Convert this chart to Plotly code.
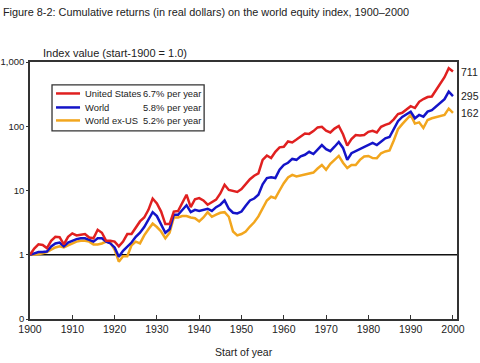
import math
import plotly.graph_objects as go

years = list(range(1900, 2001))

us = [1.0, 1.25, 1.45, 1.42, 1.27, 1.65, 1.9, 1.88, 1.45, 1.9,
      2.15, 2.0, 2.05, 2.1, 1.85, 1.8, 2.45, 2.2, 1.65, 1.65,
      1.6, 1.35, 1.6, 2.1, 2.1, 2.6, 3.3, 3.8, 5.0, 7.5,
      6.3, 4.7, 3.0, 3.0, 4.7, 4.8, 6.5, 8.6, 5.5, 7.3,
      7.6, 7.0, 6.0, 6.5, 7.2, 9.0, 12.3, 10.2, 9.8, 9.5,
      10.5, 12.5, 15, 17, 18.5, 30, 35, 32, 40, 47,
      48, 58, 56, 62, 69, 77, 76, 84, 96, 98,
      85, 80, 92, 101, 75, 50, 63, 73, 72, 73,
      82, 85, 80, 98, 105, 111, 128, 155, 162, 180,
      205, 192, 240, 265, 285, 290, 370, 450, 580, 800,
      711]

world = [1.0, 1.05, 1.1, 1.1, 1.12, 1.35, 1.5, 1.55, 1.35, 1.55,
         1.65, 1.75, 1.8, 1.8, 1.7, 1.6, 1.8, 1.8, 1.6, 1.5,
         1.3, 0.93, 1.15, 1.35, 1.55, 1.9, 2.2, 2.7, 3.5, 4.6,
         4.0, 3.0, 2.2, 2.5, 4.2, 4.2, 5.0, 5.9, 4.6, 5.0,
         4.8, 5.0, 5.2, 4.8, 5.5, 6.0, 7.0, 5.2, 4.5, 4.4,
         4.7, 5.8, 7.0, 7.5, 8.6, 12.5, 15.6, 16, 15.6, 21,
         25, 27, 31, 30, 34, 36, 40, 37, 44, 51,
         44, 41, 48, 57, 46, 30, 38, 41, 44, 48,
         52, 55, 51, 58, 65, 68, 88, 120, 140, 156,
         169, 133, 150, 141, 169, 178, 205, 228, 264, 346,
         295]

world_ex_us = [1.0, 1.0, 1.02, 1.05, 1.1, 1.2, 1.3, 1.35, 1.3, 1.4,
               1.5, 1.6, 1.65, 1.65, 1.6, 1.45, 1.45, 1.5, 1.6, 1.55,
               1.2, 0.78, 0.95, 0.95, 1.4, 1.6, 1.5, 2.0, 2.5, 3.05,
               2.7, 2.3, 1.8, 2.2, 3.8, 3.8, 4.0, 4.0, 3.8, 3.7,
               3.3, 3.8, 4.6, 3.9, 4.2, 4.5, 4.6, 3.9, 2.3, 2.0,
               2.1, 2.3, 2.75, 3.2, 3.95, 5.3, 7.0, 8.0, 7.6, 10,
               13, 16, 17.5, 16.5, 17, 17.5, 18, 19, 22, 25,
               21, 26, 30, 34.5, 27, 22.3, 25, 25, 30, 33.8,
               34.5, 32, 31.9, 38, 40.5, 42, 60, 90, 108, 130,
               150, 110, 115, 94, 125, 133, 138, 141, 150, 188,
               162]

series_names = ["United States", "World", "World ex-US"]
series_rates = ["6.7% per year", "5.8% per year", "5.2% per year"]
series_colors = ["#e02020", "#1414c8", "#f2a61e"]
end_labels = ["711", "295", "162"]

x_ticks = [1900, 1910, 1920, 1930, 1940, 1950, 1960, 1970, 1980, 1990, 2000]
y_ticks = [0.1, 1, 10, 100, 1000]
y_ticktext = ["0", "1", "10", "100", "1,000"]

FONT = "Liberation Sans Narrow, Arial Narrow, sans-serif"
TXT = "#222222"

fig = go.Figure()
data = [us, world, world_ex_us]
for i in [2, 1, 0]:
    fig.add_trace(go.Scatter(x=years, y=data[i], mode="lines", name=series_names[i],
                             line=dict(color=series_colors[i], width=2.5),
                             showlegend=False, hoverinfo="skip"))

# horizontal reference line at 1
fig.add_shape(type="line", xref="paper", x0=0, x1=1, yref="y", y0=1, y1=1,
              line=dict(color="#111111", width=1.6), layer="below")

L = 30.0; R = 456.7; T = 62.0; B = 319.3
def px(v): return (v - L) / (R - L)
def py(v): return (B - v) / (B - T)

# custom legend box
fig.add_shape(type="rect", xref="paper", yref="paper",
              x0=px(52), x1=px(204), y0=py(131), y1=py(85),
              line=dict(color="#333333", width=1.3), fillcolor="white", layer="above")
rows = [93.5, 107.5, 120.5]
for i in range(3):
    fig.add_shape(type="line", xref="paper", yref="paper",
                  x0=px(56), x1=px(80), y0=py(rows[i]), y1=py(rows[i]),
                  line=dict(color=series_colors[i], width=2.5), layer="above")
    fig.add_annotation(xref="paper", yref="paper", x=px(83), y=py(rows[i]),
                       text=series_names[i], showarrow=False, xanchor="left", yanchor="middle",
                       font=dict(size=9.4, color=TXT, family=FONT))
    fig.add_annotation(xref="paper", yref="paper", x=px(202.5), y=py(rows[i]),
                       text=series_rates[i], showarrow=False, xanchor="right", yanchor="middle",
                       font=dict(size=9.4, color=TXT, family=FONT))
    fig.add_annotation(xref="paper", yref="y", x=1, y=math.log10(data[i][-1]),
                       text=end_labels[i], showarrow=False, xanchor="left", yanchor="middle",
                       xshift=2, font=dict(size=10.5, color=TXT, family=FONT))

fig.add_annotation(xref="paper", yref="paper", x=px(41), y=py(53),
                   text="Index value (start-1900 = 1.0)", showarrow=False,
                   xanchor="left", yanchor="middle",
                   font=dict(size=11, color=TXT, family=FONT))
fig.add_annotation(xref="paper", yref="paper", x=0.5, y=py(352),
                   text="Start of year", showarrow=False,
                   xanchor="center", yanchor="middle",
                   font=dict(size=10.5, color=TXT, family=FONT))

fig.update_layout(
    width=480, height=363,
    margin=dict(l=L, r=480 - R, t=T, b=363 - B, autoexpand=False),
    paper_bgcolor="white", plot_bgcolor="white",
    title=dict(text="Figure 8-2: Cumulative returns (in real dollars) on the world equity index, 1900\u20132000",
               x=0.006, xanchor="left", xref="container", y=1 - 12 / 363, yref="container",
               yanchor="middle", font=dict(size=10.9, color=TXT, family=FONT)),
    font=dict(family=FONT, size=10.5, color=TXT),
)
fig.update_xaxes(range=[1900, 2000.95], tickvals=x_ticks, ticks="inside", ticklen=4,
                 tickcolor="#333333", showline=True, linecolor="#333333", linewidth=1.5,
                 mirror=True, showgrid=False, zeroline=False, automargin=False,
                 tickfont=dict(size=10.5))
fig.update_yaxes(type="log", range=[-1, 3], tickvals=y_ticks, ticktext=y_ticktext,
                 ticks="outside", ticklen=2, tickcolor="#333333", showline=True,
                 linecolor="#333333", linewidth=1.5, mirror=True, showgrid=False,
                 zeroline=False, automargin=False, tickfont=dict(size=9.5))

fig.write_html("out.html", config={"displayModeBar": False},
               post_script="document.body.style.margin='0px';")
